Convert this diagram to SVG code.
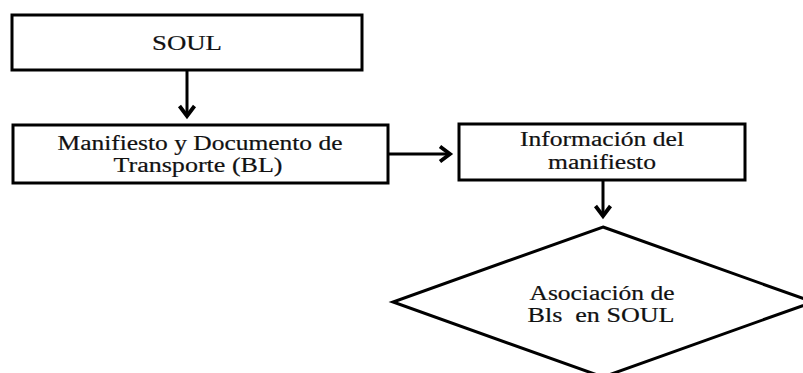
<svg xmlns="http://www.w3.org/2000/svg" width="803" height="373" viewBox="0 0 803 373">
<style>
.box{fill:#fff;stroke:#000;stroke-width:3}
.lbl{font-family:"Liberation Serif","Times New Roman",serif;font-size:20px;fill:#111;stroke:#111;stroke-width:0.2;text-anchor:middle}
.conn{stroke:#000;stroke-width:3;fill:none}
</style>
<defs>
<marker id="arr" markerUnits="userSpaceOnUse" viewBox="-14 -10 18 20" refX="0" refY="0" markerWidth="18" markerHeight="20" orient="auto">
<path d="M-10,-7.5 L0,0 L-10,7.5" fill="none" stroke="#000" stroke-width="3.8"/>
</marker>
</defs>
<rect width="803" height="373" fill="#fff"/>
<g id="connectors">
<line class="conn" x1="187" y1="70" x2="187" y2="116" marker-end="url(#arr)"/>
<line class="conn" x1="388" y1="154" x2="450" y2="154" marker-end="url(#arr)"/>
<line class="conn" x1="603" y1="180" x2="603" y2="216" marker-end="url(#arr)"/>
</g>
<g id="soul">
<rect class="box" x="12" y="15" width="350" height="55"/>
<text class="lbl" x="187" y="50" textLength="70" lengthAdjust="spacingAndGlyphs">SOUL</text>
</g>
<g id="manifiesto">
<rect class="box" x="13" y="125" width="375" height="58"/>
<text class="lbl" x="200" y="150" textLength="285" lengthAdjust="spacingAndGlyphs">Manifiesto y Documento de</text>
<text class="lbl" x="198" y="172" textLength="169" lengthAdjust="spacingAndGlyphs">Transporte (BL)</text>
</g>
<g id="informacion">
<rect class="box" x="459" y="124" width="286" height="56"/>
<text class="lbl" x="602" y="146" textLength="164" lengthAdjust="spacingAndGlyphs">Información del</text>
<text class="lbl" x="602" y="169" textLength="108" lengthAdjust="spacingAndGlyphs">manifiesto</text>
</g>
<g id="asociacion">
<polygon class="box" points="603,227 813,302 603,377 393,302"/>
<text class="lbl" x="602" y="300" textLength="145" lengthAdjust="spacingAndGlyphs">Asociación de</text>
<text class="lbl" x="601" y="322" textLength="147" lengthAdjust="spacingAndGlyphs" xml:space="preserve">Bls  en SOUL</text>
</g>
</svg>
